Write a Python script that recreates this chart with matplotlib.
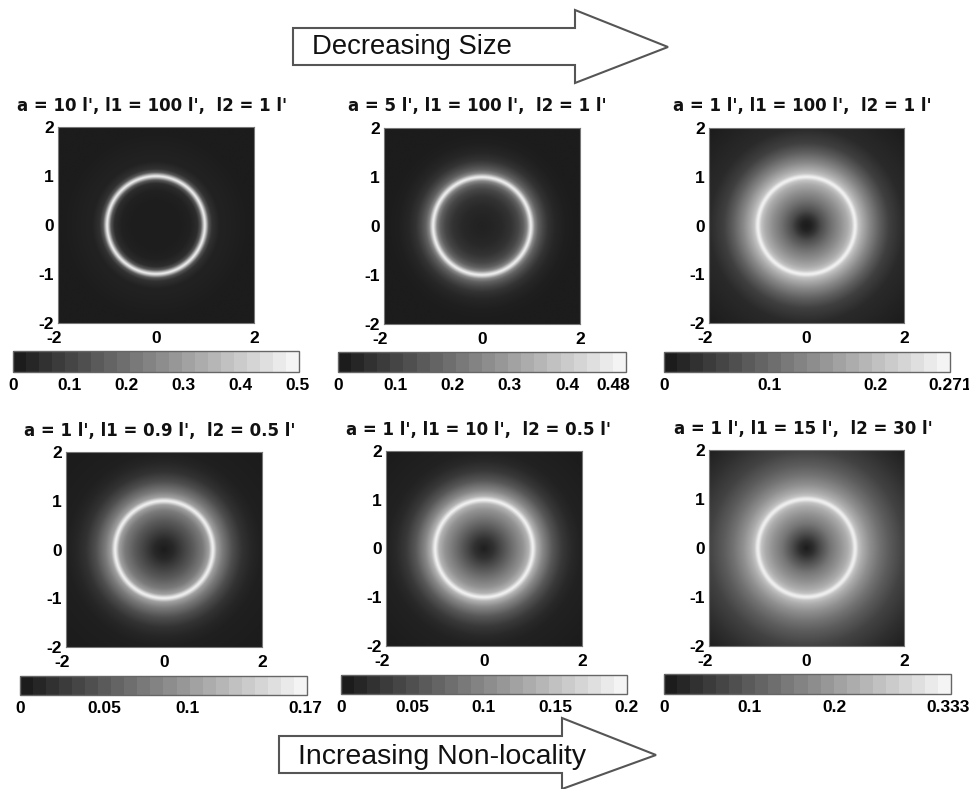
import numpy as np
import matplotlib
matplotlib.use('Agg')
import matplotlib.pyplot as plt
from matplotlib.colors import LinearSegmentedColormap, Normalize
from matplotlib.cm import ScalarMappable
from matplotlib.patches import Polygon
from matplotlib.transforms import ScaledTranslation

plt.rcParams['font.family'] = ['Liberation Sans', 'DejaVu Sans']

W, H = 970, 789

titles = ["a = 10 l', l1 = 100 l',  l2 = 1 l'", "a = 5 l', l1 = 100 l',  l2 = 1 l'",
          "a = 1 l', l1 = 100 l',  l2 = 1 l'", "a = 1 l', l1 = 0.9 l',  l2 = 0.5 l'",
          "a = 1 l', l1 = 10 l',  l2 = 0.5 l'", "a = 1 l', l1 = 15 l',  l2 = 30 l'"]

# radial intensity
r1 = [0, 0.5, 0.7, 0.85, 0.92, 0.97, 1.0, 1.03, 1.08, 1.15, 1.3, 2.0, 2.83]
i1 = [0.005, 0.005, 0.012, 0.04, 0.14, 0.38, 0.5, 0.38, 0.14, 0.05, 0.015, 0.0, 0.0]
r2 = [0, 0.2, 0.4, 0.6, 0.75, 0.85, 0.92, 0.97, 1.0, 1.03, 1.08, 1.15, 1.25, 1.35, 1.5, 1.7, 2.0, 2.83]
i2 = [0.015, 0.02, 0.03, 0.055, 0.1, 0.16, 0.25, 0.42, 0.5, 0.42, 0.25, 0.16, 0.1, 0.055, 0.025, 0.008, 0.0, 0.0]
r3 = [0, 0.1, 0.2, 0.3, 0.5, 0.7, 0.85, 0.93, 0.97, 1.0, 1.03, 1.07, 1.15, 1.3, 1.5, 1.7, 2.0, 2.83]
i3 = [0.0, 0.008, 0.03, 0.06, 0.105, 0.145, 0.18, 0.21, 0.25, 0.271, 0.25, 0.21, 0.18, 0.135, 0.085, 0.045, 0.018, 0.0]
r4 = [0, 0.2, 0.4, 0.6, 0.8, 0.92, 0.97, 1.0, 1.03, 1.08, 1.2, 1.4, 1.6, 1.8, 2.0, 2.83]
i4 = [0.0, 0.01, 0.03, 0.05, 0.075, 0.105, 0.15, 0.17, 0.15, 0.105, 0.075, 0.04, 0.018, 0.008, 0.003, 0.0]
r5 = [0, 0.2, 0.4, 0.6, 0.8, 0.92, 0.97, 1.0, 1.03, 1.08, 1.2, 1.4, 1.6, 1.8, 2.0, 2.83]
i5 = [0.003, 0.02, 0.05, 0.08, 0.11, 0.14, 0.18, 0.2, 0.18, 0.14, 0.1, 0.055, 0.027, 0.012, 0.005, 0.0]
r6 = [0, 0.15, 0.3, 0.5, 0.7, 0.85, 0.93, 0.97, 1.0, 1.03, 1.07, 1.15, 1.3, 1.5, 1.7, 2.0, 2.4, 2.83]
i6 = [0.0, 0.03, 0.08, 0.14, 0.185, 0.225, 0.26, 0.31, 0.333, 0.31, 0.26, 0.225, 0.18, 0.135, 0.1, 0.06, 0.03, 0.005]
radii = [r1, r2, r3, r4, r5, r6]
intensity = [i1, i2, i3, i4, i5, i6]

vmax = [0.503, 0.503, 0.271, 0.171, 0.2, 0.337]
cbar_ticks = [[0, 0.1, 0.2, 0.3, 0.4, 0.5], [0, 0.1, 0.2, 0.3, 0.4, 0.48], [0, 0.1, 0.2, 0.271],
              [0, 0.05, 0.1, 0.17], [0, 0.05, 0.1, 0.15, 0.2], [0, 0.1, 0.2, 0.333]]
cbar_labels = [['0', '0.1', '0.2', '0.3', '0.4', '0.5'], ['0', '0.1', '0.2', '0.3', '0.4', '0.48'],
               ['0', '0.1', '0.2', '0.271'], ['0', '0.05', '0.1', '0.17'],
               ['0', '0.05', '0.1', '0.15', '0.2'], ['0', '0.1', '0.2', '0.333']]

# pixel boxes: left, top, right, bottom
axes_px = [(58, 127, 254, 323), (384, 128, 580, 324), (709, 128, 904, 323),
           (66, 452, 262, 647), (386, 451, 582, 646), (709, 450, 904, 646)]
cbar_px = [(13, 351, 299, 372), (338, 352, 626, 372), (664, 352, 950, 372),
           (20, 676, 307, 695), (341, 675, 627, 694), (664, 674, 951, 694)]
title_px = [(152, 106), (477, 106), (802, 106), (160, 431), (479, 430), (803, 429)]

cmap = LinearSegmentedColormap.from_list('g', ['#1c1c1c', '#f4f4f4'], N=256)
cmap_bands = cmap.resampled(22)


def px_axes(fig, box, **kw):
    l, t, r, b = box
    return fig.add_axes([l / W, 1 - b / H, (r - l) / W, (b - t) / H], **kw)


def main():
    fig = plt.figure(figsize=(W / 100, H / 100), dpi=100, facecolor='white')

    # overlay for the two big arrows
    over = fig.add_axes([0, 0, 1, 1], zorder=0)
    over.set_xlim(0, W)
    over.set_ylim(H, 0)
    over.axis('off')
    top_arrow = [(293, 28), (575, 28), (575, 10), (668, 47), (575, 83), (575, 65), (293, 65)]
    bot_arrow = [(279, 736), (562, 736), (562, 718), (656, 755), (562, 789), (562, 773), (279, 773)]
    for pts in (top_arrow, bot_arrow):
        over.add_patch(Polygon(pts, closed=True, facecolor='white', edgecolor='#555555', lw=1.5))
    over.text(412, 47, 'Decreasing Size', fontsize=19.8, ha='center', va='center', color='#111111')
    over.text(442, 757, 'Increasing Non-locality', fontsize=20.5, ha='center', va='center', color='#111111')

    grid = np.linspace(-2, 2, 401)
    xx, yy = np.meshgrid(grid, grid)
    rr = np.hypot(xx, yy)

    for i in range(6):
        ax = px_axes(fig, axes_px[i])
        img = np.interp(rr, radii[i], intensity[i])
        ax.imshow(img, extent=(-2, 2, -2, 2), origin='lower', cmap=cmap, vmin=0, vmax=vmax[i],
                  interpolation='bilinear', aspect='auto')
        ax.set_xticks([-2, 0, 2])
        ax.set_yticks([-2, -1, 0, 1, 2])
        ax.set_xticklabels(['-2', '0', '2'], fontsize=12.5, fontweight='bold')
        ax.set_yticklabels(['-2', '-1', '0', '1', '2'], fontsize=12.5, fontweight='bold')
        ax.tick_params(axis='x', length=0, pad=6)
        ax.tick_params(axis='y', length=0, pad=3)
        # the -2 under the corner sits a bit left of its tick
        lab = ax.get_xticklabels()[0]
        lab.set_transform(lab.get_transform() + ScaledTranslation(-0.04, 0, fig.dpi_scale_trans))
        for s in ax.spines.values():
            s.set_color('#777777')
            s.set_linewidth(0.8)

        cax = px_axes(fig, cbar_px[i])
        sm = ScalarMappable(norm=Normalize(0, vmax[i]), cmap=cmap_bands)
        cb = fig.colorbar(sm, cax=cax, orientation='horizontal')
        cb.set_ticks(cbar_ticks[i])
        cb.set_ticklabels(cbar_labels[i], fontsize=12.5, fontweight='bold')
        cb.ax.tick_params(length=0, pad=4)
        cb.outline.set_edgecolor('#666666')
        cb.outline.set_linewidth(1.0)

        x, y = title_px[i]
        over.text(x, y, titles[i], fontsize=12, fontweight='bold', family='DejaVu Sans',
                  ha='center', va='center', color='#111111')

    fig.savefig('out.png', dpi=100)


if __name__ == "__main__":
    main()
